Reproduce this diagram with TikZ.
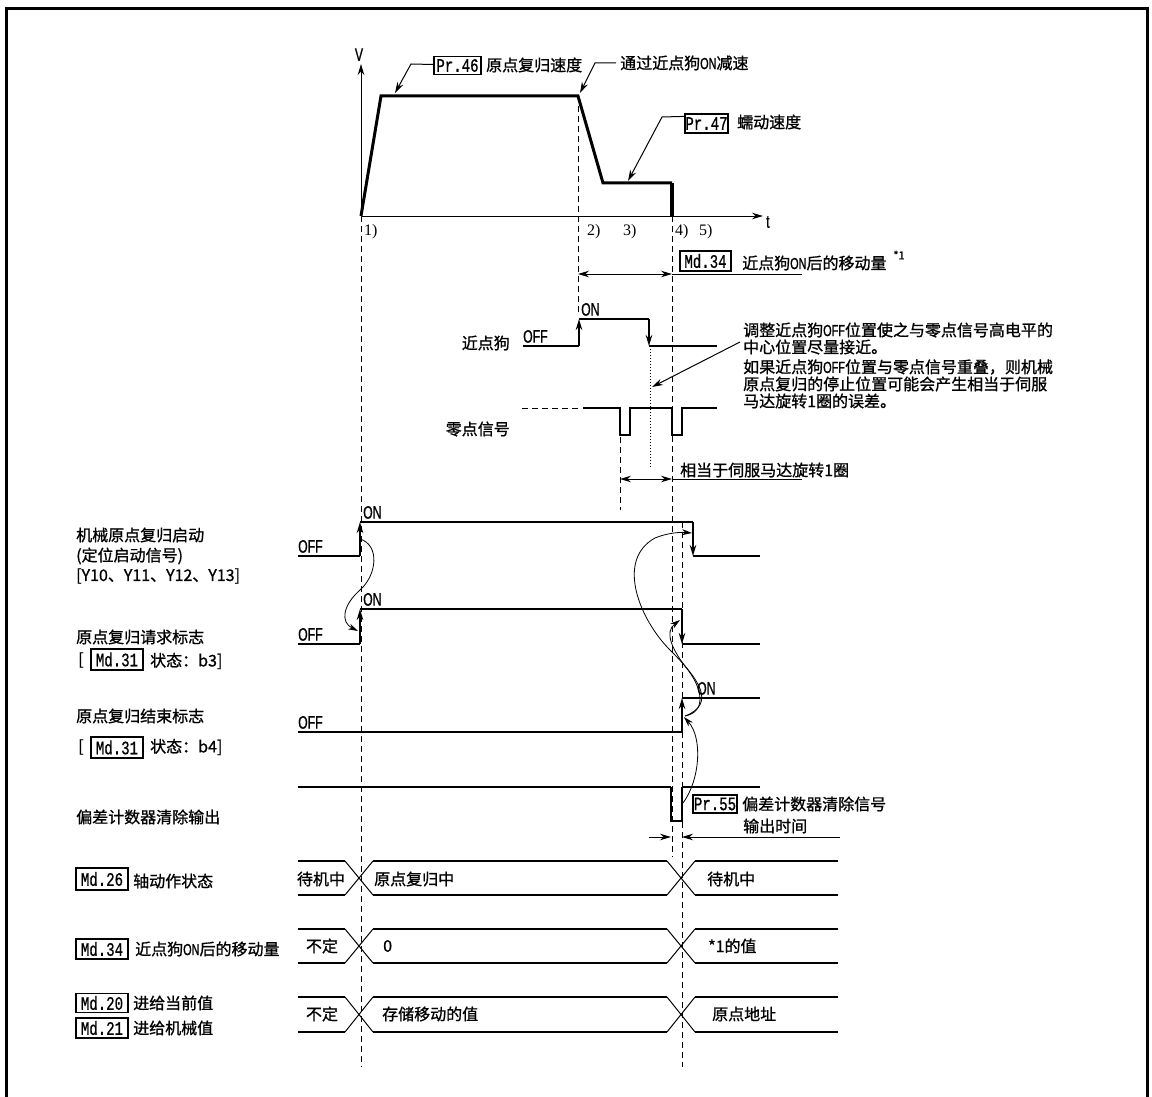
\documentclass[tikz,border=0pt]{standalone}
\usepackage{fontspec}
\setmainfont[FakeBold=1]{Noto Sans CJK SC}
\newfontfamily\monof[FakeStretch=0.74,FakeBold=0.8]{Liberation Mono}
\newfontfamily\narf[FakeStretch=0.68,FakeBold=0.8]{Liberation Sans}
\newfontfamily\serf{Liberation Serif}
\usetikzlibrary{arrows.meta}
\newcommand{\nr}[1]{{\narf #1}}
\tikzset{
 cn/.style={font=\fontsize{16}{18}\selectfont, inner sep=0pt, anchor=west},
 mbox/.style={draw, line width=1.2pt, inner sep=0pt, font=\monof\fontsize{19}{19}\selectfont},
 lv/.style={font=\narf\fontsize{18}{18}\selectfont, inner sep=0pt, anchor=south west},
 num/.style={font=\serf\fontsize{16}{16}\selectfont, inner sep=0pt, anchor=west},
 sig/.style={line width=2pt},
 thinl/.style={line width=1pt},
 dsh/.style={line width=1pt, dash pattern=on 6pt off 4pt},
 arr/.style={-{Stealth[length=11pt,width=6.5pt]}},
 barr/.style={{Stealth[length=11pt,width=6.5pt]}-{Stealth[length=11pt,width=6.5pt]}},
 carr/.style={line width=0.8pt,-{Stealth[length=10pt,width=6pt]}},
}
\begin{document}
\begin{tikzpicture}[x=1pt,y=-1pt]
\useasboundingbox (0,0) rectangle (1152,1097);
% frame
\draw[line width=3pt] (6.5,1097) -- (6.5,8.5) -- (1147.5,8.5) -- (1147.5,1097);

% ---------------- speed profile ----------------
\coordinate (O) at (361,216);
\coordinate (Vtop) at (361,64);
\coordinate (Tend) at (763,216);
\draw[thinl,arr] (O) -- (Vtop);
\draw[thinl,arr] (O) -- (Tend);
\node[lv,anchor=south] (Vl) at (359,61) {V};
\node[lv,anchor=west] (tl) at (766,222) {t};
\coordinate (p1) at (381,96);
\coordinate (p2) at (578,96);
\coordinate (p3) at (603,183);
\coordinate (p4) at (672,183);
\coordinate (p5) at (672,216);
\draw[line width=3pt, line join=miter] (O) -- (p1) -- (p2) -- (p3) -- (p4);
\draw[line width=4pt] (p4) -- (p5);
\node[num] (n1) at (364,232) {1)};
\node[num] (n2) at (587,232) {2)};
\node[num] (n3) at (623,232) {3)};
\node[num] (n4) at (675,232) {4)};
\node[num] (n5) at (699,232) {5)};

\node[mbox, minimum width=47, minimum height=18] (pr46) at (457.5,65.5) {Pr.46};
\node[cn] (t46) at (486,65) {原点复归速度};
\coordinate (l46a) at (411,64);
\coordinate (l46b) at (395,93);
\draw[thinl,arr] ([yshift=1pt]pr46.west) -- (l46a) -- (l46b);

\node[cn] (tdec) at (620,63) {通过近点狗\nr{ON}减速};
\coordinate (ldeca) at (595,63);
\coordinate (ldecb) at (580,93);
\draw[thinl,arr] ([xshift=-4pt]tdec.west) -- (ldeca) -- (ldecb);

\node[mbox, minimum width=43, minimum height=19] (pr47) at (706.5,123.5) {Pr.47};
\node[cn] (t47) at (737,122) {蠕动速度};
\coordinate (l47a) at (662,117);
\coordinate (l47b) at (628,181);
\draw[thinl,arr] ([yshift=-3pt]pr47.north west) -- (l47a) -- (l47b);

% ---------------- dashed time lines ----------------
\coordinate (d1b) at (361,1067);
\coordinate (d2b) at (578,312);
\coordinate (d4b) at (672,857);
\coordinate (d5t) at (682,522);
\coordinate (d5b) at (682,1067);
\coordinate (drt) at (620,437);
\coordinate (drb) at (620,510);
\draw[dsh] (O) -- (d1b);
\draw[dsh] (p2) -- (d2b);
\draw[dsh] (p5) -- (d4b);
\draw[dsh] (d5t) -- (d5b);
\draw[dsh] (drt) -- (drb);

% Md.34 travel after dog ON
\node[mbox, minimum width=51, minimum height=20] (md34a) at (705.5,261) {Md.34};
\node[cn] (t34a) at (742,263) {近点狗\nr{ON}后的移动量};
\node[font=\fontsize{11}{11}\selectfont, inner sep=0pt] (star1) at (899,255) {*1};
\coordinate (m34l) at (578,274);
\coordinate (m34r) at (672,274);
\coordinate (m34e) at (802,274);
\draw[thinl,barr] (m34l) -- (m34r);
\draw[thinl] (m34r) -- (m34e);

% ---------------- near-point dog ----------------
\node[cn,anchor=east] (dogl) at (510,343) {近点狗};
\node[lv] (dogoff) at (523,343) {OFF};
\node[lv] (dogon) at (581,316) {ON};
\coordinate (g0) at (523,346);
\coordinate (g1) at (579,346);
\coordinate (g2) at (579,319);
\coordinate (g3) at (649,319);
\coordinate (g4) at (649,346);
\coordinate (g5) at (717,346);
\draw[sig] (g0) -- (g1);
\draw[sig,arr] (g1) -- (g2);
\draw[sig] (g2) -- (g3);
\draw[sig,arr] (g3) -- (g4);
\draw[sig] (g4) -- (g5);
\coordinate (dotb) at (650,467);
\draw[line width=1pt, dotted] (650,346) -- (dotb);

% annotation
\node[cn] (a1) at (743,330) {调整近点狗\nr{OFF}位置使之与零点信号高电平的};
\node[cn] (a2) at (743,347) {中心位置尽量接近。};
\node[cn] (a3) at (743,367) {如果近点狗\nr{OFF}位置与零点信号重叠，则机械};
\node[cn] (a4) at (743,384) {原点复归的停止位置可能会产生相当于伺服};
\node[cn] (a5) at (743,401) {马达旋转1圈的误差。};
\coordinate (anS) at (740,342);
\coordinate (anE) at (652,387);
\draw[thinl,arr] (anS) -- (anE);

% ---------------- zero signal ----------------
\node[cn,anchor=east] (zl) at (510,429) {零点信号};
\draw[dsh] (522,408) -- (578,408);
\draw[line width=1.3pt] (583,408) -- (620,408) -- (620,435) -- (630,435) -- (630,408)
  -- (672,408) -- (672,435) -- (682,435) -- (682,408) -- (717,408);
\coordinate (r1l) at (620,479);
\coordinate (r1r) at (672,479);
\coordinate (r1e) at (802,479);
\draw[thinl,barr] (r1l) -- (r1r);
\draw[thinl] (r1r) -- (r1e);
\node[cn] (r1t) at (680,470) {相当于伺服马达旋转1圈};

% ---------------- start signal ----------------
\node[cn] (L1a) at (76,535) {机械原点复归启动};
\node[cn] (L1b) at (76,556) {(定位启动信号)};
\node[cn] (L1c) at (76,576) {[Y10、Y11、Y12、Y13]};
\node[lv] (s1off) at (298,553) {OFF};
\node[lv] (s1on) at (363,519) {ON};
\coordinate (s1a) at (298,556);
\coordinate (s1b) at (360,556);
\coordinate (s1c) at (360,522);
\coordinate (s1d) at (693,522);
\coordinate (s1e) at (693,556);
\coordinate (s1f) at (760,556);
\draw[sig] (s1a) -- (s1b);
\draw[sig,arr] (s1b) -- (s1c);
\draw[sig] (s1c) -- (s1d);
\draw[sig,arr] (s1d) -- (s1e);
\draw[sig] (s1e) -- (s1f);

% ---------------- home request flag ----------------
\node[cn] (L2a) at (76,637) {原点复归请求标志};
\node[cn] (L2br) at (78,660) {[};
\node[mbox, minimum width=52, minimum height=21] (md31a) at (117,659.5) {Md.31};
\node[cn] (L2b) at (150,661) {状态：b3]};
\node[lv] (s2off) at (298,641) {OFF};
\node[lv] (s2on) at (363,606) {ON};
\coordinate (s2a) at (298,644);
\coordinate (s2b) at (360,644);
\coordinate (s2c) at (360,609);
\coordinate (s2d) at (682,609);
\coordinate (s2e) at (682,644);
\coordinate (s2f) at (760,644);
\draw[sig] (s2a) -- (s2b);
\draw[sig,arr] (s2b) -- (s2c);
\draw[line width=1.6pt] (s2c) -- (s2d);
\draw[sig,arr] (s2d) -- (s2e);
\draw[sig] (s2e) -- (s2f);

% ---------------- home complete flag ----------------
\node[cn] (L3a) at (76,716) {原点复归结束标志};
\node[cn] (L3br) at (78,747) {[};
\node[mbox, minimum width=52, minimum height=21] (md31b) at (117,747.5) {Md.31};
\node[cn] (L3b) at (150,747) {状态：b4]};
\node[lv] (s3off) at (298,729) {OFF};
\node[lv] (s3on) at (697,695) {ON};
\coordinate (s3a) at (298,732);
\coordinate (s3b) at (682,732);
\coordinate (s3c) at (682,698);
\coordinate (s3d) at (760,698);
\draw[line width=1.6pt] (s3a) -- (s3b);
\draw[sig,arr] (s3b) -- (s3c);
\draw[sig] (s3c) -- (s3d);

% ---------------- deviation counter clear ----------------
\node[cn] (L4) at (76,817) {偏差计数器清除输出};
\coordinate (s4a) at (298,787);
\coordinate (s4b) at (671,787);
\coordinate (s4c) at (682,787);
\coordinate (s4d) at (760,787);
\draw[line width=2.6pt] (s4a) -- (s4b);
\draw[line width=1.3pt] (s4b) -- (671,821) -- (682,821) -- (s4c);
\draw[line width=2.6pt] (s4c) -- (s4d);
\node[mbox, minimum width=44, minimum height=18] (pr55) at (715,804) {Pr.55};
\node[cn] (t55a) at (742,804) {偏差计数器清除信号};
\node[cn] (t55b) at (743,826) {输出时间};
\coordinate (w1) at (649,837);
\coordinate (w2) at (671,837);
\coordinate (w3) at (682,837);
\coordinate (w4) at (840,837);
\draw[thinl,arr] (w1) -- (w2);
\draw[thinl,arr] (w4) -- (w3);

% ---------------- causal curves ----------------
\coordinate (c1s) at (360,539);
\coordinate (c1e) at (358,631);
\draw[carr] (c1s) .. controls (380,545) and (377,575) .. (360,590)
  .. controls (343,605) and (340,622) .. (c1e);
\coordinate (c2s) at (683,803);
\coordinate (c2e) at (684,717);
\draw[carr] (c2s) .. controls (700,780) and (703,738) .. (c2e);
\coordinate (c3s) at (685,716);
\coordinate (c3e) at (680,620);
\draw[carr] (c3s) .. controls (706,712) and (703,690) .. (688,670)
  .. controls (672,650) and (664,632) .. (c3e);
\coordinate (c4e) at (692,533);
\draw[carr] (c3s) .. controls (716,704) and (700,680) .. (670,650)
  .. controls (640,620) and (615,560) .. (655,538) .. controls (667,533) and (680,532) .. (c4e);

% ---------------- bus rows ----------------
\foreach \t/\b in {861/895, 929/963, 997/1032}{
  \draw[sig] (298,\t) -- (345,\t);
  \draw[sig] (298,\b) -- (345,\b);
  \draw[thinl] (345,\t) -- (373,\b);
  \draw[thinl] (345,\b) -- (373,\t);
  \draw[line width=1.3pt] (373,\t) -- (667,\t);
  \draw[line width=1.3pt] (373,\b) -- (667,\b);
  \draw[thinl] (667,\t) -- (695,\b);
  \draw[thinl] (667,\b) -- (695,\t);
  \draw[sig] (695,\t) -- (838,\t);
  \draw[sig] (695,\b) -- (838,\b);
}
\node[mbox, minimum width=52, minimum height=22] (md26) at (102,879) {Md.26};
\node[cn] (t26) at (133,881) {轴动作状态};
\node[cn,anchor=center] (b1a) at (321,879) {待机中};
\node[cn] (b1b) at (374,879) {原点复归中};
\node[cn] (b1c) at (707,879) {待机中};

\node[mbox, minimum width=52, minimum height=20] (md34b) at (102,949) {Md.34};
\node[cn] (t34b) at (135,949) {近点狗\nr{ON}后的移动量};
\node[cn,anchor=center] (b2a) at (322,946) {不定};
\node[cn] (b2b) at (383,946) {0};
\node[cn] (b2c) at (708,946) {*1的值};

\node[mbox, minimum width=52, minimum height=19] (md20) at (102,1003) {Md.20};
\node[cn] (t20) at (133,1003) {进给当前值};
\node[mbox, minimum width=52, minimum height=20] (md21) at (102,1028) {Md.21};
\node[cn] (t21) at (133,1028) {进给机械值};
\node[cn,anchor=center] (b3a) at (322,1014) {不定};
\node[cn] (b3b) at (382,1014) {存储移动的值};
\node[cn] (b3c) at (712,1014) {原点地址};
\end{tikzpicture}
\end{document}
